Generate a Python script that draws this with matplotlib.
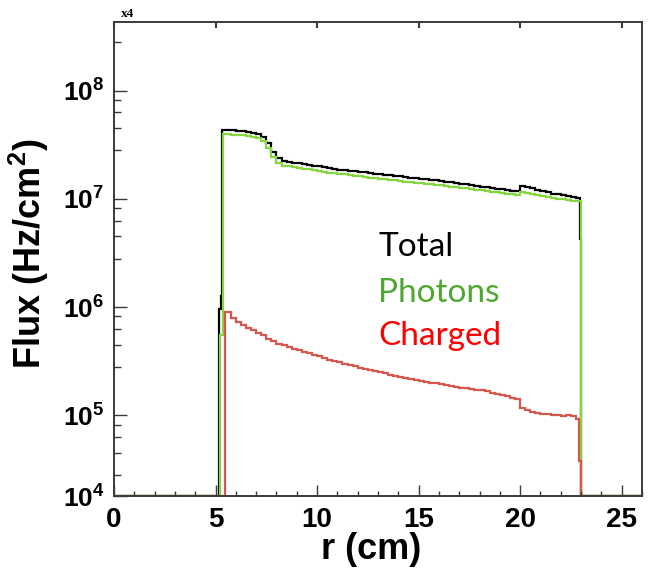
import numpy as np
import matplotlib.pyplot as plt
from matplotlib.ticker import FixedLocator, MultipleLocator, NullFormatter

plt.rcParams['font.family'] = 'Liberation Sans'
plt.rcParams['font.weight'] = 'bold'
plt.rcParams['mathtext.fontset'] = 'custom'
plt.rcParams['mathtext.rm'] = 'Liberation Sans:bold'
plt.rcParams['mathtext.bf'] = 'Liberation Sans:bold'
plt.rcParams['mathtext.it'] = 'Liberation Sans:bold'

# radial binning: 0.25 cm bins over the detector body, finer bins at the edges
r_body = np.arange(5.5, 22.76, 0.25)

total_head_edges = [5.15, 5.25, 5.32, 5.5]
total_head = [9.6e5, 1.26e6, 4.3e7]
total_body = [4.30e7, 4.28e7, 4.24e7, 4.20e7, 4.12e7, 4.05e7, 3.96e7, 3.75e7,
              3.25e7, 2.70e7, 2.36e7, 2.24e7, 2.20e7, 2.16e7, 2.13e7, 2.10e7,
              2.07e7, 2.03e7, 2.00e7, 1.96e7, 1.92e7, 1.89e7, 1.86e7, 1.84e7,
              1.82e7, 1.80e7, 1.78e7, 1.76e7, 1.73e7, 1.71e7, 1.69e7, 1.67e7,
              1.65e7, 1.63e7, 1.61e7, 1.59e7, 1.57e7, 1.55e7, 1.53e7, 1.51e7,
              1.49e7, 1.48e7, 1.46e7, 1.44e7, 1.42e7, 1.40e7, 1.38e7, 1.36e7,
              1.34e7, 1.32e7, 1.30e7, 1.28e7, 1.26e7, 1.24e7, 1.22e7, 1.20e7,
              1.18e7, 1.17e7, 1.32e7, 1.29e7, 1.25e7, 1.21e7, 1.18e7, 1.15e7,
              1.12e7, 1.10e7, 1.08e7, 1.06e7, 1.04e7]
total_tail_edges = [22.75, 22.95, 23.02]
total_tail = [1.01e7, 4.3e6]

photon_head_edges = [5.2, 5.37, 5.5]
photon_head = [5.5e5, 3.95e7]
photon_body = [3.94e7, 3.92e7, 3.88e7, 3.85e7, 3.80e7, 3.74e7, 3.66e7, 3.45e7,
               2.98e7, 2.45e7, 2.14e7, 2.03e7, 1.99e7, 1.96e7, 1.93e7, 1.90e7,
               1.87e7, 1.84e7, 1.81e7, 1.78e7, 1.75e7, 1.73e7, 1.70e7, 1.68e7,
               1.66e7, 1.63e7, 1.61e7, 1.59e7, 1.57e7, 1.55e7, 1.53e7, 1.51e7,
               1.50e7, 1.48e7, 1.46e7, 1.44e7, 1.43e7, 1.41e7, 1.39e7, 1.38e7,
               1.36e7, 1.35e7, 1.33e7, 1.31e7, 1.30e7, 1.28e7, 1.26e7, 1.25e7,
               1.23e7, 1.21e7, 1.20e7, 1.18e7, 1.16e7, 1.15e7, 1.13e7, 1.11e7,
               1.10e7, 1.08e7, 1.15e7, 1.13e7, 1.11e7, 1.08e7, 1.06e7, 1.04e7,
               1.02e7, 1.00e7, 9.9e6, 9.7e6, 9.6e6]
photon_tail_edges = [22.75, 23.0]
photon_tail = [9.5e6]

charged_head_edges = [5.47, 5.5]
charged_head = [9.0e5]
charged_body = [9.0e5, 7.9e5, 7.3e5, 6.8e5, 6.4e5, 6.2e5, 5.75e5, 5.5e5,
                5.1e5, 4.85e5, 4.6e5, 4.5e5, 4.3e5, 4.1e5, 4.0e5, 3.85e5,
                3.75e5, 3.6e5, 3.5e5, 3.42e5, 3.25e5, 3.2e5, 3.1e5, 3.0e5,
                2.9e5, 2.86e5, 2.75e5, 2.7e5, 2.6e5, 2.56e5, 2.5e5, 2.46e5,
                2.38e5, 2.3e5, 2.28e5, 2.22e5, 2.18e5, 2.12e5, 2.1e5, 2.05e5,
                2.0e5, 1.98e5, 1.95e5, 1.9e5, 1.87e5, 1.83e5, 1.8e5, 1.78e5,
                1.75e5, 1.73e5, 1.7e5, 1.67e5, 1.62e5, 1.58e5, 1.55e5, 1.5e5,
                1.46e5, 1.43e5, 1.17e5, 1.12e5, 1.08e5, 1.05e5, 1.03e5, 1.02e5,
                1.0e5, 1.01e5, 9.9e4, 1.0e5, 9.8e4]
charged_tail_edges = [22.75, 22.88, 23.0]
charged_tail = [9.3e4, 3.8e4]

r_min, r_max = 0.0, 26.0
y_floor, y_top = 1.8e4, 4.3e8
decades = [1e5, 1e6, 1e7, 1e8]


def full_hist(head_edges, head, body, tail_edges, tail):
    edges = [r_min] + head_edges + list(r_body[1:-1]) + tail_edges + [r_max]
    vals = [0.0] + head + body + tail + [0.0]
    return np.array(edges), np.array(vals)


fig = plt.figure(figsize=(6.58, 5.71), dpi=100)
ax = fig.add_axes([0.1733, 0.1313, 0.8024, 0.8302])

series = [
    (total_head_edges, total_head, total_body, total_tail_edges, total_tail, '#000000'),
    (photon_head_edges, photon_head, photon_body, photon_tail_edges, photon_tail, '#84d63e'),
    (charged_head_edges, charged_head, charged_body, charged_tail_edges, charged_tail, '#d6574b'),
]
for he, hv, bv, te, tv, col in series:
    edges, vals = full_hist(he, hv, bv, te, tv)
    # empty bins sit on the bottom of the frame, like ROOT draws them
    ax.stairs(np.clip(vals, y_floor, None), edges, baseline=None,
              color=col, lw=1.6)

ax.set_yscale('log')
ax.set_xlim(r_min, r_max)
ax.set_ylim(y_floor, y_top)

spine_col = '#3a3a3a'
for s in ax.spines.values():
    s.set_color(spine_col)
    s.set_linewidth(1.4)

ax.xaxis.set_major_locator(MultipleLocator(5))
ax.xaxis.set_minor_locator(MultipleLocator(1))
ax.xaxis.set_major_formatter(plt.FuncFormatter(lambda v, p: '%d' % v))
ax.tick_params(axis='x', which='major', direction='in', length=8, width=1,
               color=spine_col, pad=8, labelsize=20)
ax.tick_params(axis='x', which='minor', direction='in', length=3.8, width=1,
               color=spine_col)

ytick_vals = [y_floor] + decades
ytick_labels = [r'$\mathbf{10^{4}}$'] + [r'$\mathbf{10^{%d}}$' % round(np.log10(d)) for d in decades]
ax.yaxis.set_major_locator(FixedLocator(ytick_vals))
ax.set_yticklabels(ytick_labels)
minor_y = [m * d for d in [1e4, 1e5, 1e6, 1e7, 1e8] for m in (2.8, 4.5, 6.3, 8.2)]
ax.yaxis.set_minor_locator(FixedLocator(minor_y))
ax.yaxis.set_minor_formatter(NullFormatter())
ax.tick_params(axis='y', which='major', direction='in', length=9.5, width=1,
               color=spine_col, pad=7, labelsize=19)
ax.tick_params(axis='y', which='minor', direction='in', length=5, width=1,
               color=spine_col)

top = ax.secondary_xaxis('top')
top.xaxis.set_major_locator(MultipleLocator(5))
top.tick_params(direction='in', length=4.5, width=1.5, color=spine_col,
                labeltop=False)
top.spines['top'].set_visible(False)

ax.set_xlabel('r (cm)', fontweight='bold', fontsize=26)
ax.xaxis.set_label_coords(0.487, -0.076)
ax.xaxis.label.set_va('top')
ax.set_ylabel('Flux (Hz/cm$^{2}$)', fontweight='bold', fontsize=26)
ax.yaxis.set_label_coords(-0.12, 0.51)

fig.text(0.184, 0.970, 'x4', fontfamily='Liberation Serif', fontweight='bold',
         fontsize=9.5, va='baseline')

for label, col, yb in [('Total', '#000000', 0.506),
                       ('Photons', '#4ea72e', 0.409),
                       ('Charged', '#ff0000', 0.3186)]:
    ax.text(0.500, yb, label, transform=ax.transAxes, color=col,
            fontfamily='Lato', fontweight='normal', fontsize=24,
            va='baseline')

fig.savefig('out.png', dpi=100)
